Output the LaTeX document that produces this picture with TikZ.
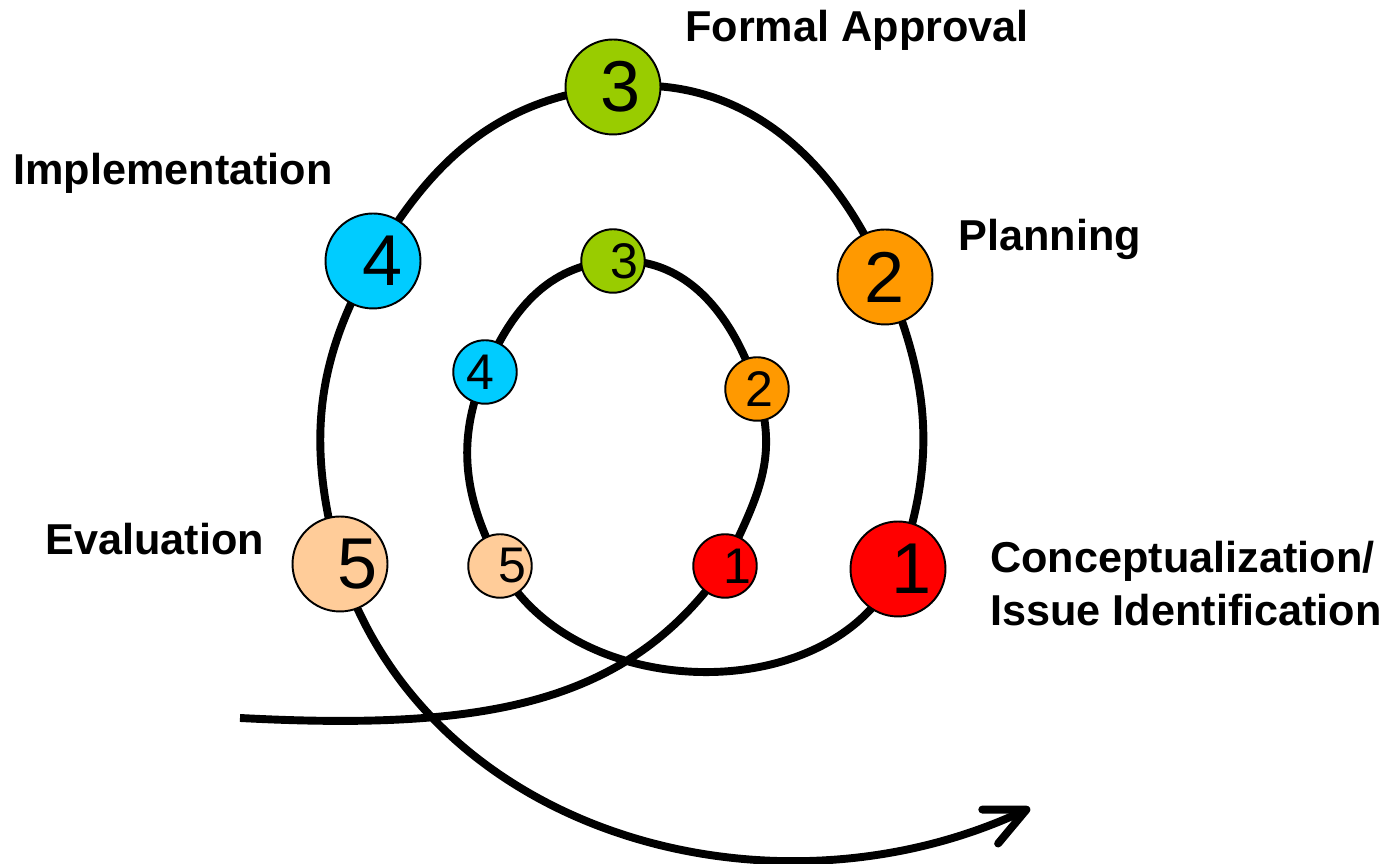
\documentclass[tikz,border=0pt]{standalone}
\usepackage{fontspec}
\setmainfont{Liberation Sans}
\usetikzlibrary{arrows.meta, backgrounds}

\definecolor{stepred}{RGB}{255,0,0}
\definecolor{steporange}{RGB}{255,153,0}
\definecolor{stepgreen}{RGB}{153,204,0}
\definecolor{stepcyan}{RGB}{0,204,255}
\definecolor{steppeach}{RGB}{255,204,153}

\begin{document}
\begin{tikzpicture}[x=0.02cm,y=0.02cm,>={Straight Barb[length=0.8cm,width=0.75cm,round]},
	nudge/.style={execute at begin node={\hspace*{#1}}}]
	\tikzstyle{outerstep}=[circle, draw, line width=1.1pt, minimum size=1.9cm, inner sep=0pt, font=\fontsize{41}{41}\selectfont]
	\tikzstyle{innerstep}=[circle, draw, line width=1.1pt, minimum size=1.27cm, inner sep=0pt, font=\fontsize{28.5}{28.5}\selectfont]
	\tikzstyle{stage}=[inner sep=0pt, font=\bfseries\fontsize{24.6}{30}\selectfont]
	\tikzstyle{spiral}=[line width=4.5pt]

	\useasboundingbox (0,0) rectangle (1397,864);

	\node [outerstep, fill=stepred, nudge=0.56cm] (o1) at (898,295) {1};
	\node [outerstep, fill=steporange] (o2) at (885,587) {2};
	\node [outerstep, fill=stepgreen, nudge=0.32cm] (o3) at (613,777) {3};
	\node [outerstep, fill=stepcyan, nudge=0.4cm] (o4) at (373,603) {4};
	\node [outerstep, fill=steppeach, nudge=0.72cm] (o5) at (340,300) {5};

	\node [innerstep, fill=stepred, nudge=0.48cm] (i1) at (725,298) {1};
	\node [innerstep, fill=steporange, nudge=0.08cm] (i2) at (757,475) {2};
	\node [innerstep, fill=stepgreen, nudge=0.44cm] (i3) at (613,603) {3};
	\node [innerstep, fill=stepcyan, nudge=-0.2cm] (i4) at (485,492) {4};
	\node [innerstep, fill=steppeach, nudge=0.48cm] (i5) at (500,298) {5};

	\node [stage, anchor=base west] (approval) at (685,822) {Formal Approval};
	\node [stage, anchor=base west] (implementation) at (13,679) {Implementation};
	\node [stage, anchor=base west] (planning) at (958,613) {Planning};
	\node [stage, anchor=base west] (evaluation) at (45,309) {Evaluation};
	\node [stage, anchor=north west, align=left] (concept) at (990,323) {Conceptualization/\\Issue Identification};

	\coordinate (start) at (240,146);
	\coordinate (finish) at (1030,56);

	\begin{scope}[on background layer]
	\draw [spiral, ->] (start) to[out=-3, in=235, out looseness=1.25, in looseness=0.85] (i1.center)
		to[out=65, in=288, looseness=1.05] (i2.center)
		to[out=108, in=4] (i3.center)
		to[out=184, in=67] (i4.center)
		to[out=247, in=118] (i5.center)
		to[out=298, in=245] (o1.center)
		to[out=70, in=293] (o2.center)
		to[out=113, in=6] (o3.center)
		to[out=186, in=60] (o4.center)
		to[out=240, in=106] (o5.center)
		to[out=288, in=205] (finish);
	\end{scope}
\end{tikzpicture}
\end{document}
